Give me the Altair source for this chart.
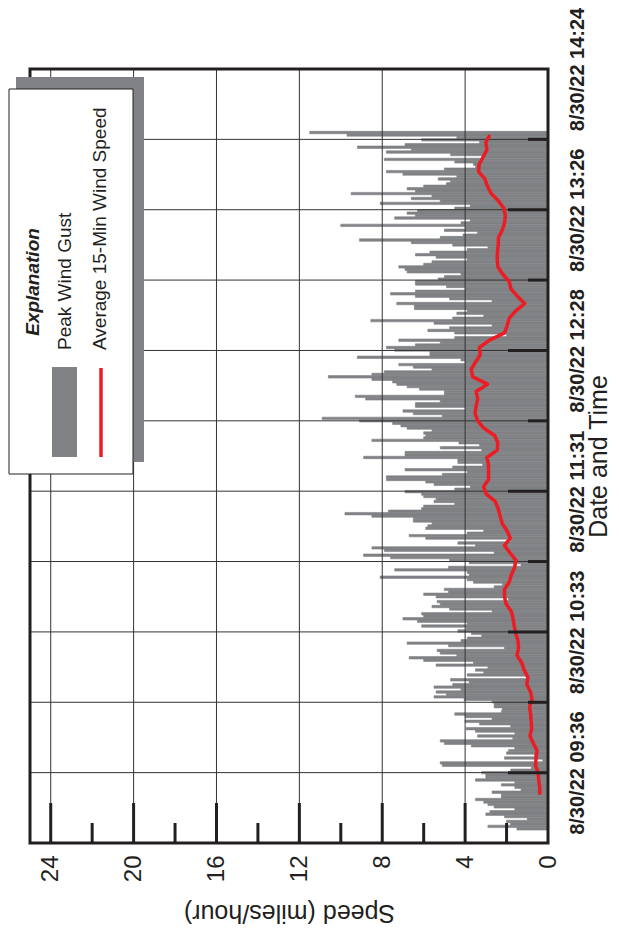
import altair as alt
import pandas as pd

# Peak wind gust, one value per minute (minutes since midnight), latest first: 13:58 -> 09:13
gust_minutes = list(range(838, 552, -1))
gust_mph = [
    # 13:58 - 13:06
    11.5, 9.7, 4.4, 6.1, 3.3, 6.9, 9.2, 6.6, 7.8, 4.7,
    3.2, 7.9, 4.5, 3.6, 3.5, 5.0, 7.8, 7.0, 4.4, 5.3,
    4.7, 4.9, 6.0, 6.8, 6.4, 9.5, 5.6, 6.6, 5.2, 8.1,
    3.75, 4.5, 6.3, 6.8, 6.4, 7.4, 3.75, 4.2, 10.0, 4.0,
    5.0, 3.4, 4.1, 5.2, 9.1, 6.6, 4.6, 2.9, 3.9, 5.7,
    6.4, 5.4, 3.9,
    # 13:05 - 12:09
    5.6, 6.0, 7.2, 6.9, 6.8, 4.2, 5.0, 5.3, 6.4, 6.4,
    4.9, 4.0, 6.4, 7.6, 6.4, 4.75, 2.7, 7.3, 6.45, 6.45,
    3.9, 4.4, 3.1, 4.6, 8.55, 5.5, 2.7, 4.75, 5.8, 4.5,
    2.0, 4.5, 7.2, 5.2, 6.4, 7.8, 7.4, 5.7, 5.7, 9.2,
    4.2, 4.0, 7.2, 6.5, 5.6, 7.9, 8.5, 10.6, 8.5, 7.5,
    7.3, 6.8, 6.2, 5.0, 5.0, 9.3, 8.8,
    # 12:08 - 11:11
    5.2, 6.4, 6.4, 4.0,
    7.0, 6.5, 5.1, 10.9, 9.1, 7.5, 7.1, 6.8, 5.6, 6.0,
    5.9, 6.0, 8.5, 4.3, 3.3, 5.2, 3.2, 6.9, 6.9, 8.9,
    4.35, 4.35, 3.15, 4.6, 6.9, 3.9, 5.1, 7.8, 7.8, 5.9,
    5.5, 3.75, 4.5, 6.9, 6.1, 6.0, 5.4, 5.5, 4.5, 6.0,
    6.1, 7.7, 9.8, 8.5, 6.5, 6.5, 5.6, 5.8, 5.9, 3.1,
    3.9, 6.7, 5.9, 1.8,
    # 11:10 - 10:14
    4.35, 3.5, 8.5,
    7.9, 2.6, 8.9, 7.6, 4.75, 3.8, 1.3, 4.8, 7.4,
    3.9, 3.8, 8.1, 3.9, 3.6, 2.2, 2.6, 5.0, 4.8, 6.0,
    5.4, 1.9, 5.35, 5.2, 5.6, 4.75, 2.7, 6.1, 6.0, 7.0,
    6.3, 3.9, 6.1, 3.95, 4.35, 3.7, 3.2, 3.9, 4.2,
    6.8, 4.8, 2.1, 5.35, 5.2, 4.4, 6.7, 6.0, 3.6, 5.4,
    2.9, 3.5, 3.1, 3.9, 1.0, 4.7,
    # 10:13 - 09:13
    3.8, 4.6, 5.5, 4.2, 5.4, 4.9, 5.5, 4.05, 2.7, 2.6,
    2.6, 2.2, 2.25, 4.5, 4.0, 2.7, 4.0, 3.3, 1.8, 3.95,
    3.5, 1.6, 3.4, 1.7, 5.2, 5.0, 3.7, 1.6, 1.9, 2.0,
    0.65, 2.1, 0.25, 5.2, 5.1, 0.8, 1.8, 3.2, 3.0, 3.0,
    3.5, 1.6, 2.25, 1.6, 1.3, 2.7, 2.25, 2.25, 3.5, 3.1,
    2.9, 2.6, 1.6, 2.8, 3.0, 2.1, 1.0, 2.0, 1.8, 2.9, 1.5,
]

# Average 15-minute wind speed, latest first: 13:57 -> 09:27
avg_minutes = list(range(837, 566, -3))
avg_mph = [
    2.81, 3.0, 2.95, 3.13, 3.32, 3.35, 3.05, 2.92, 2.74, 2.39,
    2.13, 2.06, 2.1, 2.21, 2.39, 2.4, 2.44, 2.45, 2.42, 2.18,
    1.87, 1.79, 1.48, 1.13, 1.56, 1.87, 1.97, 2.1, 2.82, 3.31,
    3.27, 3.5, 3.71, 3.63, 2.92, 3.47, 3.39, 3.47, 3.52, 3.39,
    3.1, 2.58, 2.42, 2.45, 2.95, 2.87, 2.87, 2.87, 3.11, 2.98,
    2.55, 2.4, 2.31, 2.21, 1.98, 1.82, 2.1, 1.84, 1.55, 1.61,
    1.77, 1.87, 2.1, 2.1, 2.02, 1.77, 1.69, 1.63, 1.55, 1.45,
    1.42, 1.5, 1.27, 1.15, 0.97, 1.02, 0.84, 0.77, 0.89, 0.84,
    0.81, 0.79, 0.87, 0.71, 0.53, 0.58, 0.6, 0.48, 0.45, 0.4, 0.4,
]

speed_labels = [0, 4, 8, 12, 16, 20, 24]
speed_major = [4, 8, 12, 16, 20, 24]
speed_minor = [2, 6, 10, 14, 18, 22]
time_major = [576, 633.6, 691.2, 748.8, 806.4]
time_minor = [604.8, 662.4, 720, 777.6, 835.2]
time_ticks = [547.2, 576, 604.8, 633.6, 662.4, 691.2, 720, 748.8, 777.6, 806.4, 835.2, 864]

W, H = 518, 774
INK = "#231f20"
GRAY = "#808285"
RED = "#ed1c24"

gust_df = pd.DataFrame({"t": gust_minutes, "mph": gust_mph})
avg_df = pd.DataFrame({"t": avg_minutes, "mph": avg_mph})
one = pd.DataFrame({"a": [0]})

xscale = alt.Scale(domain=[0, 25], reverse=True, nice=False, zero=False)
yscale = alt.Scale(domain=[547.2, 864], nice=False, zero=False)

label_expr = (
    "round((datum.value-576)/28.8) % 2 == 0 ? "
    "'8/30/22 ' + (floor(datum.value/60) < 10 ? '0' : '') + floor(datum.value/60) + ':' + "
    "(floor(datum.value % 60) < 10 ? '0' : '') + floor(datum.value % 60) : ''"
)

xaxis = alt.Axis(
    values=speed_labels, labelAngle=270, labelAlign="right", labelBaseline="middle",
    labelPadding=12, labelFontSize=24, labelColor=INK, labelFlush=False, labelOverlap=False,
    ticks=False, domain=False, grid=False,
    title="Speed (miles/hour)", titleAngle=180, titleFontSize=25, titleFontWeight="normal",
    titleColor=INK, titleX=259, titleY=69, titleAlign="center", titleBaseline="middle",
)
yaxis = alt.Axis(
    orient="right", values=time_ticks, labelExpr=label_expr, labelAngle=270,
    labelAlign="center", labelBaseline="top", labelPadding=19, labelFontSize=20,
    labelFontWeight="bold", labelFont="Liberation Sans",
    labelColor=INK, labelFlush=False, labelOverlap=False,
    ticks=False, domain=False, grid=False,
    title="Date and Time", titleAngle=270, titleFontSize=25, titleFontWeight="normal",
    titleColor=INK, titleX=50, titleY=387, titleAlign="center", titleBaseline="middle",
)


def X(field):
    return alt.X(field, scale=xscale, axis=xaxis)


def Y(field):
    return alt.Y(field, scale=yscale, axis=yaxis)


bars = alt.Chart(gust_df).transform_calculate(
    t0="datum.t - 0.5", t1="datum.t + 0.5"
).mark_rect(color=GRAY, stroke=GRAY, strokeWidth=0.6).encode(
    x=X("mph:Q"), x2=alt.datum(0), y=Y("t0:Q"), y2="t1:Q",
)

vgrid = alt.Chart(pd.DataFrame({"v": speed_major})).mark_rule(color="#333333", strokeWidth=1).encode(
    x=X("v:Q"), y=alt.value(0), y2=alt.value(H)
)
hgrid = alt.Chart(pd.DataFrame({"v": time_major + time_minor})).mark_rule(color="#333333", strokeWidth=1).encode(
    y=Y("v:Q"), x=alt.value(0), x2=alt.value(W)
)

avg_line = alt.Chart(avg_df).mark_line(color=RED, strokeWidth=3.5, strokeJoin="round").encode(
    x=X("mph:Q"), y=Y("t:Q"), order="t:Q",
)

xt_major = alt.Chart(pd.DataFrame({"v": speed_major})).mark_rule(color=INK, strokeWidth=3).encode(
    x=X("v:Q"), y=alt.value(H), y2=alt.value(H - 40)
)
xt_minor = alt.Chart(pd.DataFrame({"v": speed_minor})).mark_rule(color=INK, strokeWidth=3).encode(
    x=X("v:Q"), y=alt.value(H), y2=alt.value(H - 20)
)
yt_major = alt.Chart(pd.DataFrame({"v": time_major})).mark_rule(color=INK, strokeWidth=3).encode(
    y=Y("v:Q"), x=alt.value(W), x2=alt.value(W - 40)
)
yt_minor = alt.Chart(pd.DataFrame({"v": time_minor})).mark_rule(color=INK, strokeWidth=3).encode(
    y=Y("v:Q"), x=alt.value(W), x2=alt.value(W - 20)
)

frame = alt.Chart(one).mark_rect(filled=False, stroke=INK, strokeWidth=3).encode(
    x=alt.value(0), x2=alt.value(W), y=alt.value(0), y2=alt.value(H)
)

# Legend (drawn rotated, like the rest of the figure)
shadow = alt.Chart(one).mark_rect(color=GRAY).encode(
    x=alt.value(-14), x2=alt.value(114), y=alt.value(8), y2=alt.value(393)
)
box = alt.Chart(one).mark_rect(fill="white", stroke=INK, strokeWidth=1).encode(
    x=alt.value(-21), x2=alt.value(103), y=alt.value(20), y2=alt.value(405)
)
leg_title = alt.Chart(one).mark_text(
    text="Explanation", angle=270, align="center", baseline="middle",
    fontSize=19, fontWeight="bold", fontStyle="italic", color=INK,
).encode(x=alt.value(3), y=alt.value(213))
leg_gust = alt.Chart(one).mark_text(
    text="Peak Wind Gust", angle=270, align="left", baseline="middle", fontSize=19, color=INK,
).encode(x=alt.value(35), y=alt.value(281))
leg_avg = alt.Chart(one).mark_text(
    text="Average 15-Min Wind Speed", angle=270, align="left", baseline="middle", fontSize=19, color=INK,
).encode(x=alt.value(70), y=alt.value(281))
sw_gust = alt.Chart(one).mark_rect(color=GRAY).encode(
    x=alt.value(22), x2=alt.value(47), y=alt.value(298), y2=alt.value(388)
)
sw_avg = alt.Chart(one).mark_rule(color=RED, strokeWidth=3.5).encode(
    x=alt.value(71), y=alt.value(299), y2=alt.value(388)
)

chart = alt.layer(
    bars, vgrid, hgrid, avg_line, xt_major, xt_minor, yt_major, yt_minor, frame,
    shadow, box, leg_title, leg_gust, leg_avg, sw_gust, sw_avg,
).properties(
    width=W, height=H,
    padding={"left": 22, "top": 61, "right": 63, "bottom": 85},
    autosize=alt.AutoSizeParams(type="none"),
).configure(font="Liberation Sans").configure_view(strokeWidth=0)

chart.save("out.html", embed_options={"renderer": "svg", "actions": False})
